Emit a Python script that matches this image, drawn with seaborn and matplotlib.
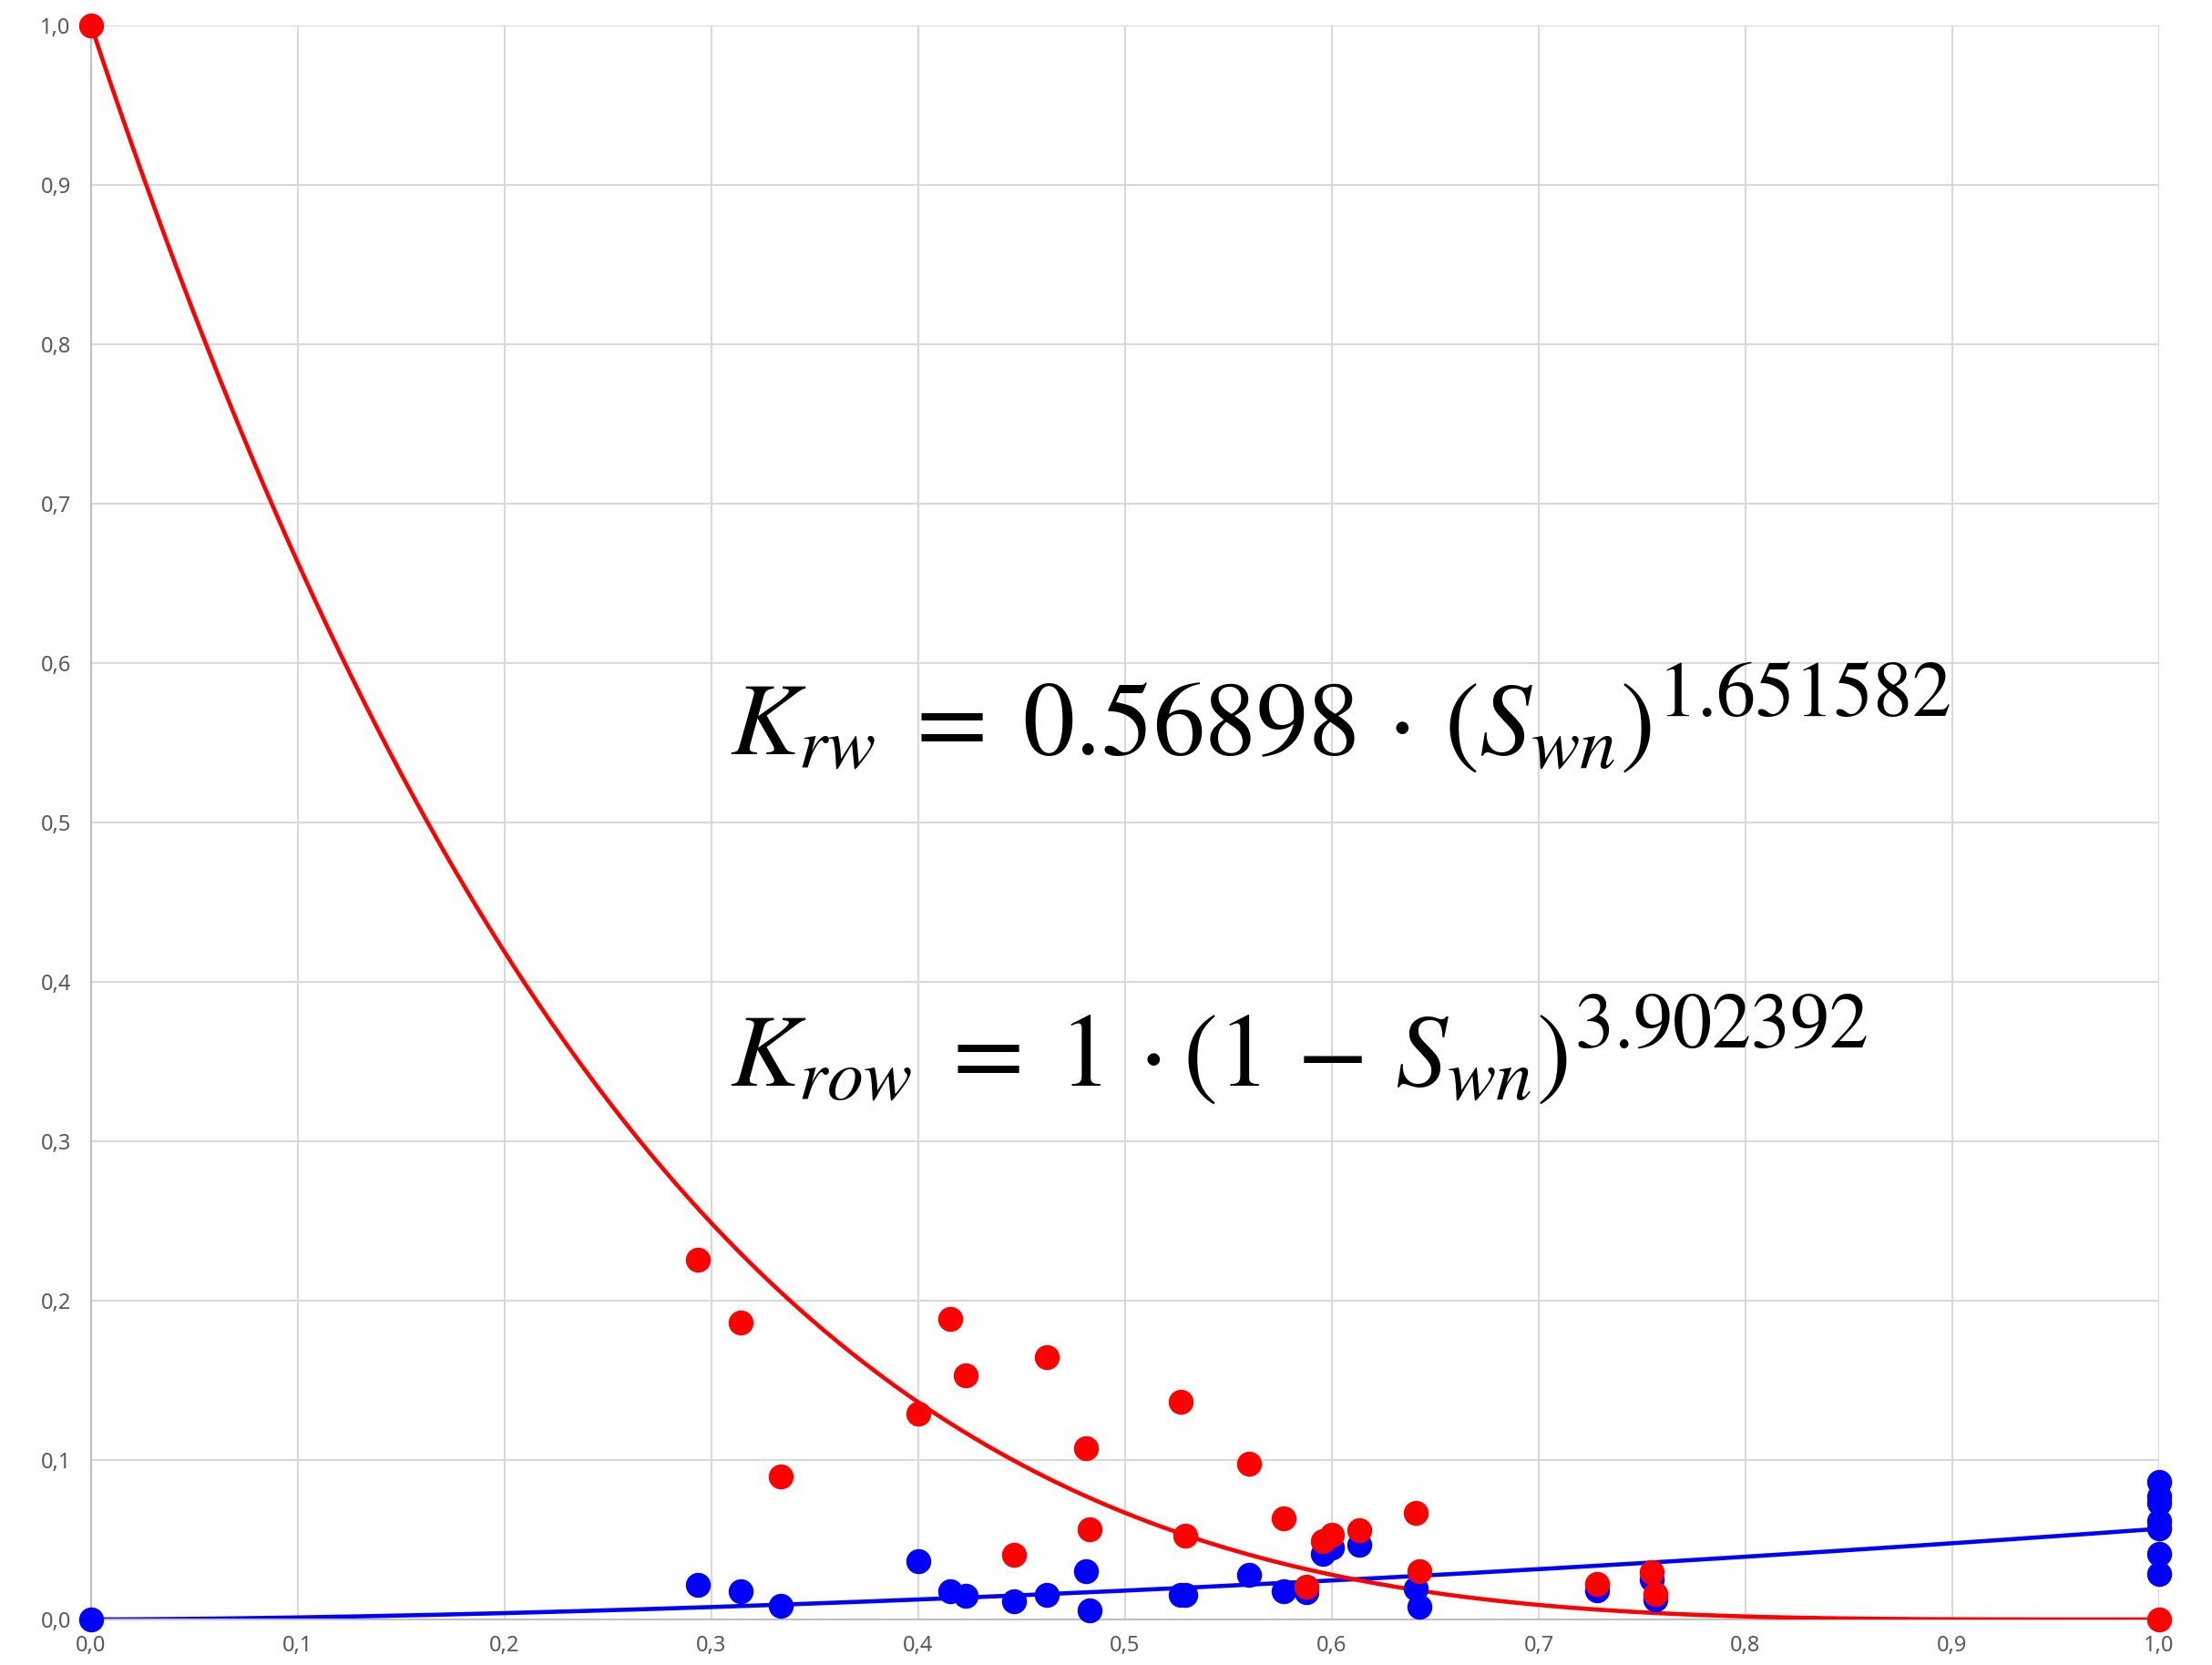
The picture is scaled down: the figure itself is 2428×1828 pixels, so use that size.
import matplotlib
matplotlib.use("Agg")
import numpy as np
import pandas as pd
import seaborn as sns
import matplotlib.pyplot as plt
from matplotlib.ticker import FuncFormatter, MultipleLocator

# ---- data ----
swn_krw = [0.0, 0.2932, 0.3142, 0.3333, 0.4000, 0.4152, 0.4231, 0.4464, 0.4619,
           0.4809, 0.4830, 0.5268, 0.5290, 0.5597, 0.5765, 0.5875, 0.5955, 0.6002,
           0.6131, 0.6406, 0.6423, 0.7281, 0.7547, 0.7564,
           1.0, 1.0, 1.0, 1.0, 1.0, 1.0, 1.0]
krw = [0.0, 0.0217, 0.0179, 0.0088, 0.0366, 0.0179, 0.0147, 0.0116, 0.0156,
       0.0305, 0.0055, 0.0156, 0.0156, 0.0278, 0.0175, 0.0170, 0.0413, 0.0451,
       0.0470, 0.0194, 0.0080, 0.0185, 0.0251, 0.0128,
       0.0865, 0.0770, 0.0730, 0.0617, 0.0570, 0.0413, 0.0284]

swn_krow = [0.0, 0.2932, 0.3142, 0.3333, 0.4000, 0.4152, 0.4231, 0.4464, 0.4619,
            0.4809, 0.4830, 0.5268, 0.5290, 0.5597, 0.5765, 0.5875, 0.5955, 0.6002,
            0.6131, 0.6406, 0.6423, 0.7281, 0.7547, 0.7564, 1.0]
krow = [1.0, 0.2255, 0.1865, 0.0897, 0.1293, 0.1884, 0.1531, 0.0408, 0.1646,
        0.1074, 0.0564, 0.1366, 0.0526, 0.0975, 0.0634, 0.0204, 0.0493, 0.0533,
        0.0560, 0.0670, 0.0303, 0.0223, 0.0299, 0.0160, 0.0]

# power trendline parameters (as displayed by the fitted trendlines)
krw_coef, krw_exp = 0.056898, 1.651582
krow_coef, krow_exp = 1.0, 3.902392

eq_krw_main = r"$K_{rw}\;=\;0.56898\,\cdot\,(S_{wn})$"
eq_krw_sup = r"$1.651582$"
eq_krow_main = r"$K_{row}\;=\;1\,\cdot(1\,-\,S_{wn})$"
eq_krow_sup = r"$3.902392$"

RED = "#FF0000"
BLUE = "#0000FF"

sns.set_theme(style="whitegrid")
plt.rcParams["font.family"] = ["Noto Sans", "DejaVu Sans"]
plt.rcParams["mathtext.fontset"] = "stix"

W, H = 2428, 1828
fig = plt.figure(figsize=(W / 100, H / 100), dpi=100)
left, right, top, bottom = 100, 2370, 28, 1778
ax = fig.add_axes([left / W, 1 - bottom / H, (right - left) / W, (bottom - top) / H])

xs = np.linspace(0.0, 1.0, 500)
df_curve = pd.DataFrame({
    "swn": xs,
    "krw": krw_coef * xs ** krw_exp,
    "krow": krow_coef * (1 - xs) ** krow_exp,
})

sns.lineplot(data=df_curve, x="swn", y="krw", color=BLUE, lw=3.3, ax=ax, zorder=2)
sns.lineplot(data=df_curve, x="swn", y="krow", color=RED, lw=3.3, ax=ax, zorder=3)

sns.scatterplot(x=swn_krw, y=krw, color=BLUE, s=390, linewidth=0, ax=ax,
                zorder=4, clip_on=False)
sns.scatterplot(x=swn_krow, y=krow, color=RED, s=390, linewidth=0, ax=ax,
                zorder=5, clip_on=False)

ax.set_xlim(0, 1)
ax.set_ylim(0, 1)
ax.xaxis.set_major_locator(MultipleLocator(0.1))
ax.yaxis.set_major_locator(MultipleLocator(0.1))
fmt = FuncFormatter(lambda v, p: f"{v:.1f}".replace(".", ","))
ax.xaxis.set_major_formatter(fmt)
ax.yaxis.set_major_formatter(fmt)
ax.set_xlabel("")
ax.set_ylabel("")

ax.grid(True, color="#d9d9d9", lw=1.5)
ax.set_axisbelow(True)
for s in ["top", "right"]:
    ax.spines[s].set_visible(False)
for s in ["left", "bottom"]:
    ax.spines[s].set_visible(True)
    ax.spines[s].set_color("#bfbfbf")
    ax.spines[s].set_linewidth(1.5)
ax.tick_params(axis="both", length=0, labelsize=17, labelcolor="#595959")
ax.tick_params(axis="y", pad=16)
ax.tick_params(axis="x", pad=12)
ax.set_facecolor("white")
fig.patch.set_facecolor("white")

# equations: main part, then a larger-than-default superscript placed after it
MAIN_FS, SUP_FS = 82, 62
renderer = fig.canvas.get_renderer()
for (ex, ey), main, sup in [((0.309, 0.543), eq_krw_main, eq_krw_sup),
                            ((0.309, 0.335), eq_krow_main, eq_krow_sup)]:
    t = ax.text(ex, ey, main, fontsize=MAIN_FS, color="black",
                va="baseline", ha="left")
    bb = t.get_window_extent(renderer)
    base_y = ax.transData.transform((ex, ey))[1]
    fig.text((bb.x1 + 6) / W, (base_y + 42) / H, sup, fontsize=SUP_FS,
             color="black", va="baseline", ha="left")

fig.savefig("out.png", dpi=100)
